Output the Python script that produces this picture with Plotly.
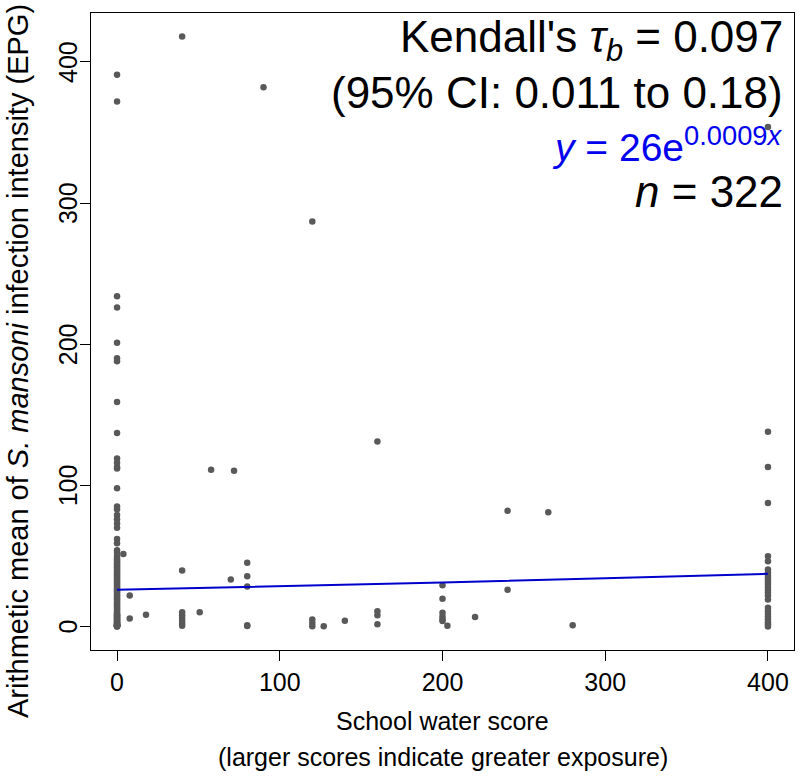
import plotly.graph_objects as go
import math

# ---- data ----
col0_y = [391, 372, 234, 226, 201, 190, 188, 159, 137, 119, 116, 113, 112, 98,
          85, 83, 79, 76, 73, 70, 62, 59, 54, 52,
          49.5, 48, 47, 46, 45, 44, 43, 42, 41, 40, 39, 38, 37, 36, 35, 34, 33, 32,
          31, 30, 29, 28, 27, 26, 25, 24, 23, 22, 21, 20, 19, 18, 17, 16, 15, 14,
          13, 12, 11, 10, 9, 8.5, 8, 7.5, 7, 6.5, 6, 5.5, 5, 4.5, 4, 3.5, 3, 2.5,
          2, 1.8, 1.5, 1.2, 1, 0.8, 0.6, 0.5, 0.4, 0.3, 0.2, 0.1, 0]
col400_y = [354, 138, 113, 87.5, 49.8, 46.2, 40.3, 38, 36, 34, 32, 30, 28, 26,
            24, 22, 19.1, 13.2, 11, 9, 7, 5, 3, 1.5, 0]
col40_y = [418, 39.6, 10, 8, 6, 4, 2, 0.5]
other_x = [3.9, 7.8, 7.8, 17.8, 50.8, 57.8, 71.9, 69.9, 80, 80, 80, 80, 80, 90,
           120, 120, 120, 120, 127, 140, 160, 160, 160, 160, 200, 200, 200, 200,
           200, 200, 203, 220, 240, 240, 265, 280]
other_y = [51.4, 22, 5.7, 8.3, 10.1, 111, 110.4, 33.3, 45.1, 35.6, 28.3, 0.9, 0.3, 382,
           287, 5, 2.5, 0.2, 0.2, 4, 131, 10.8, 8, 1.6, 29.2, 19.6, 9.7, 7,
           5, 3.8, 0.5, 6.6, 82, 26, 81, 0.9]

x_vals = [0] * len(col0_y) + [400] * len(col400_y) + [40] * len(col40_y) + other_x
y_vals = col0_y + col400_y + col40_y + other_y

# fitted model shown on the chart: y = 26 * exp(0.0009 x)
fit_a = 26
fit_b = 0.0009
fit_x = [0, 100, 200, 300, 400]
fit_y = [fit_a * math.exp(fit_b * v) for v in fit_x]

x_ticks = [0, 100, 200, 300, 400]
y_ticks = [0, 100, 200, 300, 400]
y_tick_labels = ["0", "100", "200", "300", "400"]

FONT = "Liberation Sans, Arial, sans-serif"

fig = go.Figure()
fig.add_trace(go.Scatter(x=x_vals, y=y_vals, mode="markers",
                         marker=dict(size=6.5, color="#595959", line=dict(width=0)),
                         showlegend=False, hoverinfo="skip"))
fig.add_trace(go.Scatter(x=fit_x, y=fit_y, mode="lines",
                         line=dict(color="#0000CC", width=2),
                         showlegend=False, hoverinfo="skip"))

fig.update_layout(
    width=800, height=782,
    margin=dict(l=91, r=6, t=13, b=132, autoexpand=False),
    paper_bgcolor="white", plot_bgcolor="white",
    font=dict(family=FONT, size=25, color="black"),
    xaxis=dict(range=[-16, 416], tickvals=x_ticks, ticks="outside", ticklen=10,
               tickwidth=1, tickcolor="black", showline=True, mirror=True,
               linecolor="black", linewidth=1, showgrid=False, zeroline=False,
               tickfont=dict(size=25), automargin=False),
    yaxis=dict(range=[-16.7, 434.7], tickvals=y_ticks, ticktext=[""] * len(y_ticks),
               ticks="outside", ticklen=10,
               tickwidth=1, tickcolor="black", showline=True, mirror=True,
               linecolor="black", linewidth=1, showgrid=False, zeroline=False,
               automargin=False),
)

# rotated y tick labels (R style), positioned on the y scale
for v, t in zip(y_ticks, y_tick_labels):
    fig.add_annotation(text=t, xref="paper", yref="y", x=0, y=v, xanchor="center",
                       yanchor="middle", xshift=-23, textangle=-90, showarrow=False,
                       font=dict(size=25, family=FONT))

annos = [
    dict(text="Kendall's <i>τ</i><sub><i>b</i></sub> = 0.097", y=40, color="black", size=44),
    dict(text="(95% CI: 0.011 to 0.18)", y=92, color="black", size=44),
    dict(text="<i>y</i> = 26e<sup>0.0009<i>x</i></sup>", y=144, color="#0000EE", size=39),
    dict(text="<i>n</i> = 322", y=191, color="black", size=44),
]
for a in annos:
    fig.add_annotation(text=a["text"], xref="paper", yref="paper", x=1, y=1,
                       xanchor="right", yanchor="middle", xshift=-9,
                       yshift=-(a["y"] - 13), showarrow=False,
                       font=dict(size=a["size"], color=a["color"], family=FONT))

fig.add_annotation(text="School water score", xref="paper", yref="paper", x=0.5, y=0,
                   xanchor="center", yanchor="middle", yshift=-71, showarrow=False,
                   font=dict(size=25, family=FONT))
fig.add_annotation(text="(larger scores indicate greater exposure)", xref="paper",
                   yref="paper", x=0.5, y=0, xanchor="center", yanchor="middle",
                   yshift=-107, showarrow=False, font=dict(size=25, family=FONT))
fig.add_annotation(text="Arithmetic mean of <i>S. mansoni</i> infection intensity (EPG)",
                   xref="paper", yref="paper", x=0, y=(650 - 361) / 637,
                   xanchor="center", yanchor="middle", xshift=-73, textangle=-90,
                   showarrow=False, font=dict(size=29, family=FONT))

fig.write_html("out.html", config={"displayModeBar": False},
               post_script="document.body.style.margin='0';document.body.style.padding='0';")
